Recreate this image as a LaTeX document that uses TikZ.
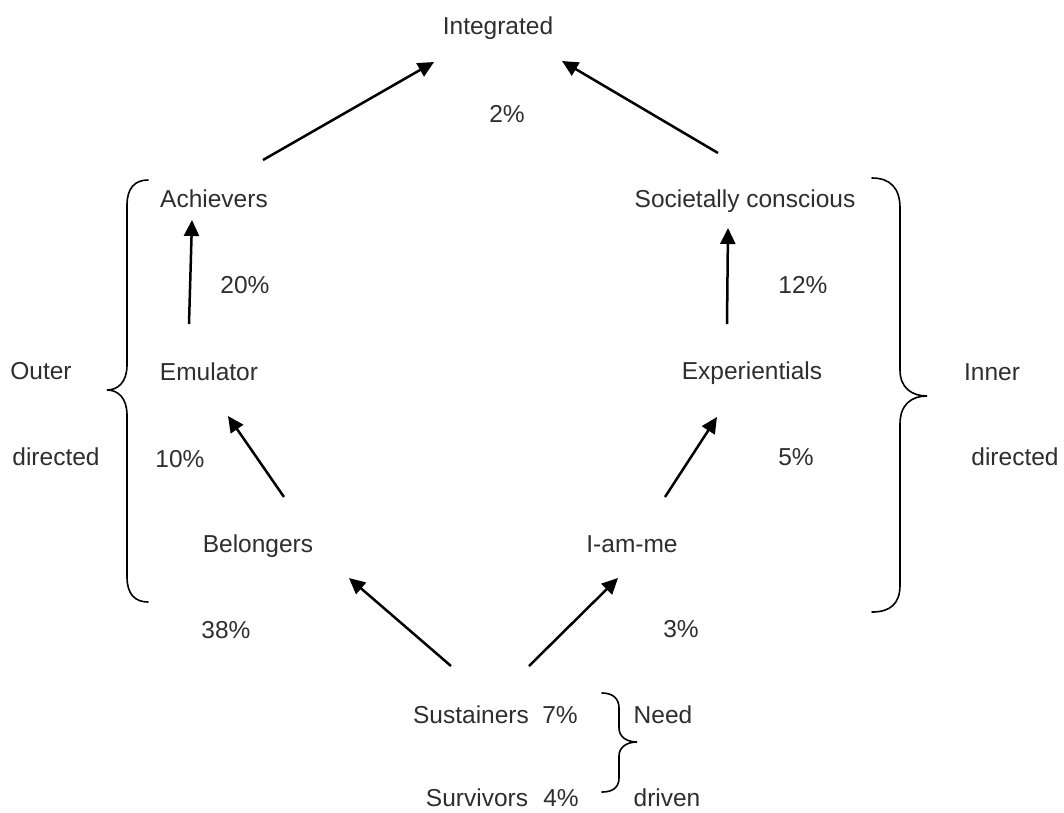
\documentclass[tikz,border=0pt]{standalone}
\usepackage{fontspec}
\setmainfont{Liberation Sans}
\usetikzlibrary{arrows.meta}
\begin{document}
\begin{tikzpicture}[x=1pt,y=-1pt,
  lbl/.style={anchor=base,inner sep=0pt,text=black!82,font=\fontsize{24.5}{29}\selectfont},
  arr/.style={line width=2.5pt,-{Triangle[length=16pt,width=15pt]}},
  curly/.style={line width=1.6pt,line cap=round}]
\useasboundingbox (0,0) rectangle (1064,812);

% segment names
\node[lbl] (integ)  at (498,34)  {Integrated};
\node[lbl] (achiev) at (214,207) {Achievers};
\node[lbl] (soc)    at (745,207) {Societally conscious};
\node[lbl] (emul)   at (209,380) {Emulator};
\node[lbl] (exper)  at (752,379) {Experientials};
\node[lbl] (belong) at (258,552) {Belongers};
\node[lbl] (iamme)  at (632,552) {I-am-me};
\node[lbl] (sust)   at (471,723) {Sustainers};
\node[lbl] (surv)   at (477,806) {Survivors};

% shares
\node[lbl] (p2)  at (507,122) {2\%};
\node[lbl] (p20) at (245,293) {20\%};
\node[lbl] (p12) at (803,293) {12\%};
\node[lbl] (p10) at (180,467) {10\%};
\node[lbl] (p5)  at (796,465) {5\%};
\node[lbl] (p38) at (226,638) {38\%};
\node[lbl] (p3)  at (681,637) {3\%};
\node[lbl] (p7)  at (560,723) {7\%};
\node[lbl] (p4)  at (561,806) {4\%};

% group labels
\node[lbl] (outer)   at (41,379)   {Outer};
\node[lbl] (dirL)    at (56,465)   {directed};
\node[lbl] (inner)   at (992,380)  {Inner};
\node[lbl] (dirR)    at (1015,465) {directed};
\node[lbl] (need)    at (663,723)  {Need};
\node[lbl] (driven)  at (667,806)  {driven};

% development paths
\draw[arr] ([shift={(49,-47)}]achiev.base) -- ([shift={(-64,28)}]integ.base);
\draw[arr] ([shift={(-27,-54)}]soc.base)   -- ([shift={(64,27)}]integ.base);
\draw[arr] ([shift={(-20,-56)}]emul.base)  -- ([shift={(-22,13)}]achiev.base);
\draw[arr] ([shift={(-25,-55)}]exper.base) -- ([shift={(-17,21)}]soc.base);
\draw[arr] ([shift={(26,-55)}]belong.base) -- ([shift={(19,36)}]emul.base);
\draw[arr] ([shift={(33,-55)}]iamme.base)  -- ([shift={(-35,38)}]exper.base);
\draw[arr] ([shift={(-20,-57)}]sust.base)  -- ([shift={(91,26)}]belong.base);
\draw[arr] ([shift={(58,-57)}]sust.base)   -- ([shift={(-14,26)}]iamme.base);

% outer-directed brace
\draw[curly] (148,180) .. controls (135,180) and (127,188) .. (127,205)
  -- (127,365) .. controls (127,382) and (118,390) .. (107,390)
  .. controls (118,390) and (127,398) .. (127,415)
  -- (127,577) .. controls (127,594) and (135,602) .. (148,602);
% inner-directed brace
\draw[curly] (872,178) .. controls (890,178) and (900,188) .. (900,208)
  -- (900,370) .. controls (900,388) and (912,396) .. (927,396)
  .. controls (912,396) and (900,404) .. (900,424)
  -- (900,585) .. controls (900,604) and (890,612) .. (872,612);
% need-driven brace
\draw[curly] (602,693) .. controls (612,693) and (619,698) .. (619,708)
  -- (619,728) .. controls (619,737) and (627,742) .. (637,742)
  .. controls (627,742) and (619,747) .. (619,756)
  -- (619,778) .. controls (619,788) and (612,792) .. (602,792);
\end{tikzpicture}
\end{document}
